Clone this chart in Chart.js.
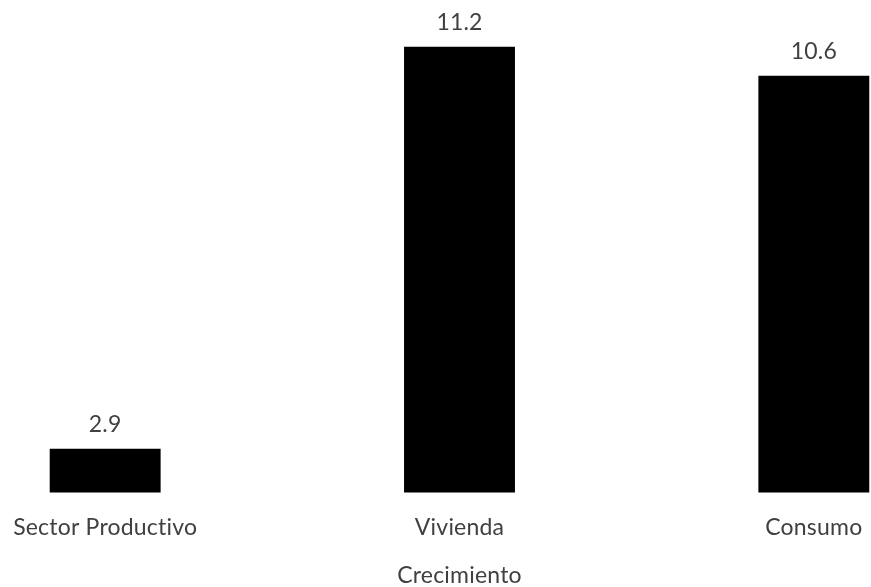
<!DOCTYPE html>
<html>
<head>
<meta charset="utf-8">
<script src="https://cdn.jsdelivr.net/npm/chart.js@4"></script>
<style>
  html, body { margin: 0; padding: 0; background: #fff; overflow: hidden; }
  body { width: 871px; height: 587px; position: relative; }
  /* chart is wider than the window; first and last bars sit near the edges */
  #wrap { position: absolute; left: -72px; top: 0; width: 1063px; height: 587px; }
</style>
</head>
<body>
<div id="wrap"><canvas id="growthChart"></canvas></div>
<script>
// Categories and growth values
const categories = ["Sector Productivo", "Vivienda", "Consumo"];
const growthValues = [2.9, 11.2, 10.6];
const axisTitle = "Crecimiento";

const textColor = '#404040';
const fontFamily = 'Lato, "Open Sans", sans-serif';

// small letter spacing keeps Lato from joining "ti"
const noLigatures = {
    id: 'noLigatures',
    beforeDraw(chart) { chart.ctx.letterSpacing = '0.2px'; }
};

// Draw value labels above each bar
const valueLabels = {
    id: 'valueLabels',
    afterDatasetsDraw(chart) {
        const ctx = chart.ctx;
        const meta = chart.getDatasetMeta(0);
        ctx.save();
        ctx.fillStyle = textColor;
        ctx.font = '23px ' + fontFamily;
        ctx.textAlign = 'center';
        ctx.textBaseline = 'middle';
        meta.data.forEach((bar, i) => {
            ctx.fillText(growthValues[i].toFixed(1), bar.x, bar.y - 24);
        });
        ctx.restore();
    }
};

new Chart(document.getElementById('growthChart'), {
    type: 'bar',
    data: {
        labels: categories,
        datasets: [{
            data: growthValues,
            backgroundColor: '#000',
            borderWidth: 0,
            barPercentage: 0.313,
            categoryPercentage: 1.0
        }]
    },
    options: {
        responsive: true,
        maintainAspectRatio: false,
        animation: false,
        layout: { padding: { top: 8, left: 0, right: 0, bottom: 0 } },
        plugins: {
            legend: { display: false },
            tooltip: { enabled: false }
        },
        scales: {
            y: { display: false, min: 2, max: 12 },
            x: {
                grid: { display: false, drawTicks: false },
                border: { display: false },
                ticks: { color: textColor, font: { family: fontFamily, size: 23 }, padding: 21 },
                title: {
                    display: true,
                    text: axisTitle,
                    color: textColor,
                    font: { family: fontFamily, size: 23, lineHeight: 1 },
                    padding: { top: 2, bottom: 0 }
                }
            }
        }
    },
    plugins: [noLigatures, valueLabels]
});
</script>
</body>
</html>
